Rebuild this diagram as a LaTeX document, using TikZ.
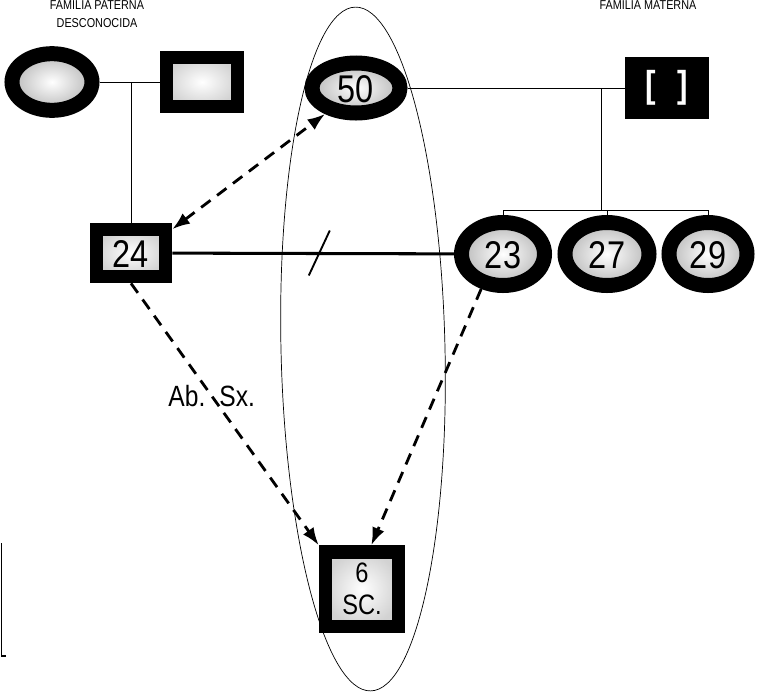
\documentclass[tikz,border=0pt]{standalone}
\usepackage{fontspec}
\setmainfont{Liberation Sans}
\newfontfamily\narrowsans[FakeStretch=0.84]{Liberation Sans}
\newcommand{\headfont}{\narrowsans\fontsize{11}{15}\selectfont}
\newcommand{\agefont}{\narrowsans\fontsize{33}{33}\selectfont}
\newcommand{\notefont}{\narrowsans\fontsize{25}{25}\selectfont}
\usetikzlibrary{shapes.geometric,arrows.meta,calc}

\begin{document}
\begin{tikzpicture}[
        x=0.03cm, y=-0.03cm,
        >={Latex[length=15pt,width=11pt]},
        female/.style={
            ellipse,
            draw=black,
            line width=0.45cm,
            shading=radial,
            inner color=white,
            outer color=gray!55,
            inner sep=0pt,
            font=\agefont,
            text height=24pt,
            text depth=0pt
        },
        square/.style={
            rectangle,
            draw=black,
            line width=0.4cm,
            inner sep=0pt,
            align=center
        },
        male/.style={
            square,
            shading=radial,
            inner color=white,
            outer color=gray!35
        },
        darkmale/.style={
            square,
            fill=black,
            text=white
        },
        agetext/.style={
            font=\agefont,
            text height=24pt,
            text depth=0pt
        },
        kin/.style={
            line width=0.7pt,
            draw=black
        },
        union/.style={
            line width=2.6pt,
            draw=black
        },
        descent/.style={
            line width=2.4pt,
            dash pattern=on 10pt off 7pt,
            draw=black
        },
        heading/.style={
            font=\headfont,
            align=center,
            inner sep=0pt
        }
    ]
        \useasboundingbox (0,0) rectangle (757,691);

        % sibship circle round the three generations
        \draw[line width=0.6pt, rotate around={1.3:(363,349)}]
            (363,349) ellipse [x radius=82, y radius=342];

        \node[heading] (paternal) at (97,14)
            {FAMILIA PATERNA\\DESCONOCIDA};
        \node[heading] (maternal) at (648,5)
            {FAMILIA MATERNA};

        \node[female, minimum width=2.4cm, minimum height=1.7cm]
            (patgrandma) at (52,82) {};
        \node[male, minimum width=2.14cm, minimum height=1.48cm]
            (patgrandpa) at (202,82) {};
        \node[female, minimum width=2.64cm, minimum height=1.5cm]
            (grandma50) at (356,88) {50};
        \node[darkmale, minimum width=2.11cm, minimum height=1.48cm,
            font=\narrowsans\bfseries\fontsize{32}{32}\selectfont]
            (matgrandpa) at (667,88) {[\hspace{18pt}]};

        \node[male, agetext, minimum width=2.08cm, minimum height=1.42cm]
            (father24) at (131,253) {24};
        \node[female, minimum width=2.49cm, minimum height=1.89cm]
            (mother23) at (503,254) {23};
        \node[female, minimum width=2.52cm, minimum height=1.89cm]
            (aunt27) at (607,254) {27};
        \node[female, minimum width=2.34cm, minimum height=1.89cm]
            (aunt29) at (708,254) {29};

        \node[male, minimum width=2.2cm, minimum height=2.23cm,
            font=\narrowsans\fontsize{24}{27}\selectfont]
            (child6) at (362,589) {6\\SC.};

        % family lines
        \draw[kin] (patgrandma) -- (patgrandpa);
        \draw[kin] (father24.north) -- (father24.north |- patgrandma.east);
        \draw[kin] (grandma50) -- (matgrandpa);
        \coordinate (sibship) at (601,210);
        \draw[kin] (sibship |- grandma50.east) -- (sibship);
        \draw[kin] (mother23.north |- sibship) -- (aunt29.north |- sibship);
        \foreach \sib in {mother23,aunt27,aunt29}
            \draw[kin] (\sib.north |- sibship) -- (\sib.north);

        \draw[union] (father24) -- coordinate[pos=0.52] (split) (mother23);
        \draw[line width=1.6pt]
            ($(split)+(-10,22)$) -- ($(split)+(11,-23)$);

        \draw[descent,<->] (father24.30) -- (grandma50.220);
        \draw[descent,->] (father24.south) --
            node[pos=0.43, font=\notefont, inner sep=0pt] (abuse)
            {Ab.\hspace{12pt}Sx.} (child6.north west);
        \draw[descent,->] (mother23.238) -- (child6.78);

        % scan edge, bottom left
        \draw[line width=1.4pt] (1.5,543) -- (1.5,656) -- (6,656);
    \end{tikzpicture}
\end{document}
